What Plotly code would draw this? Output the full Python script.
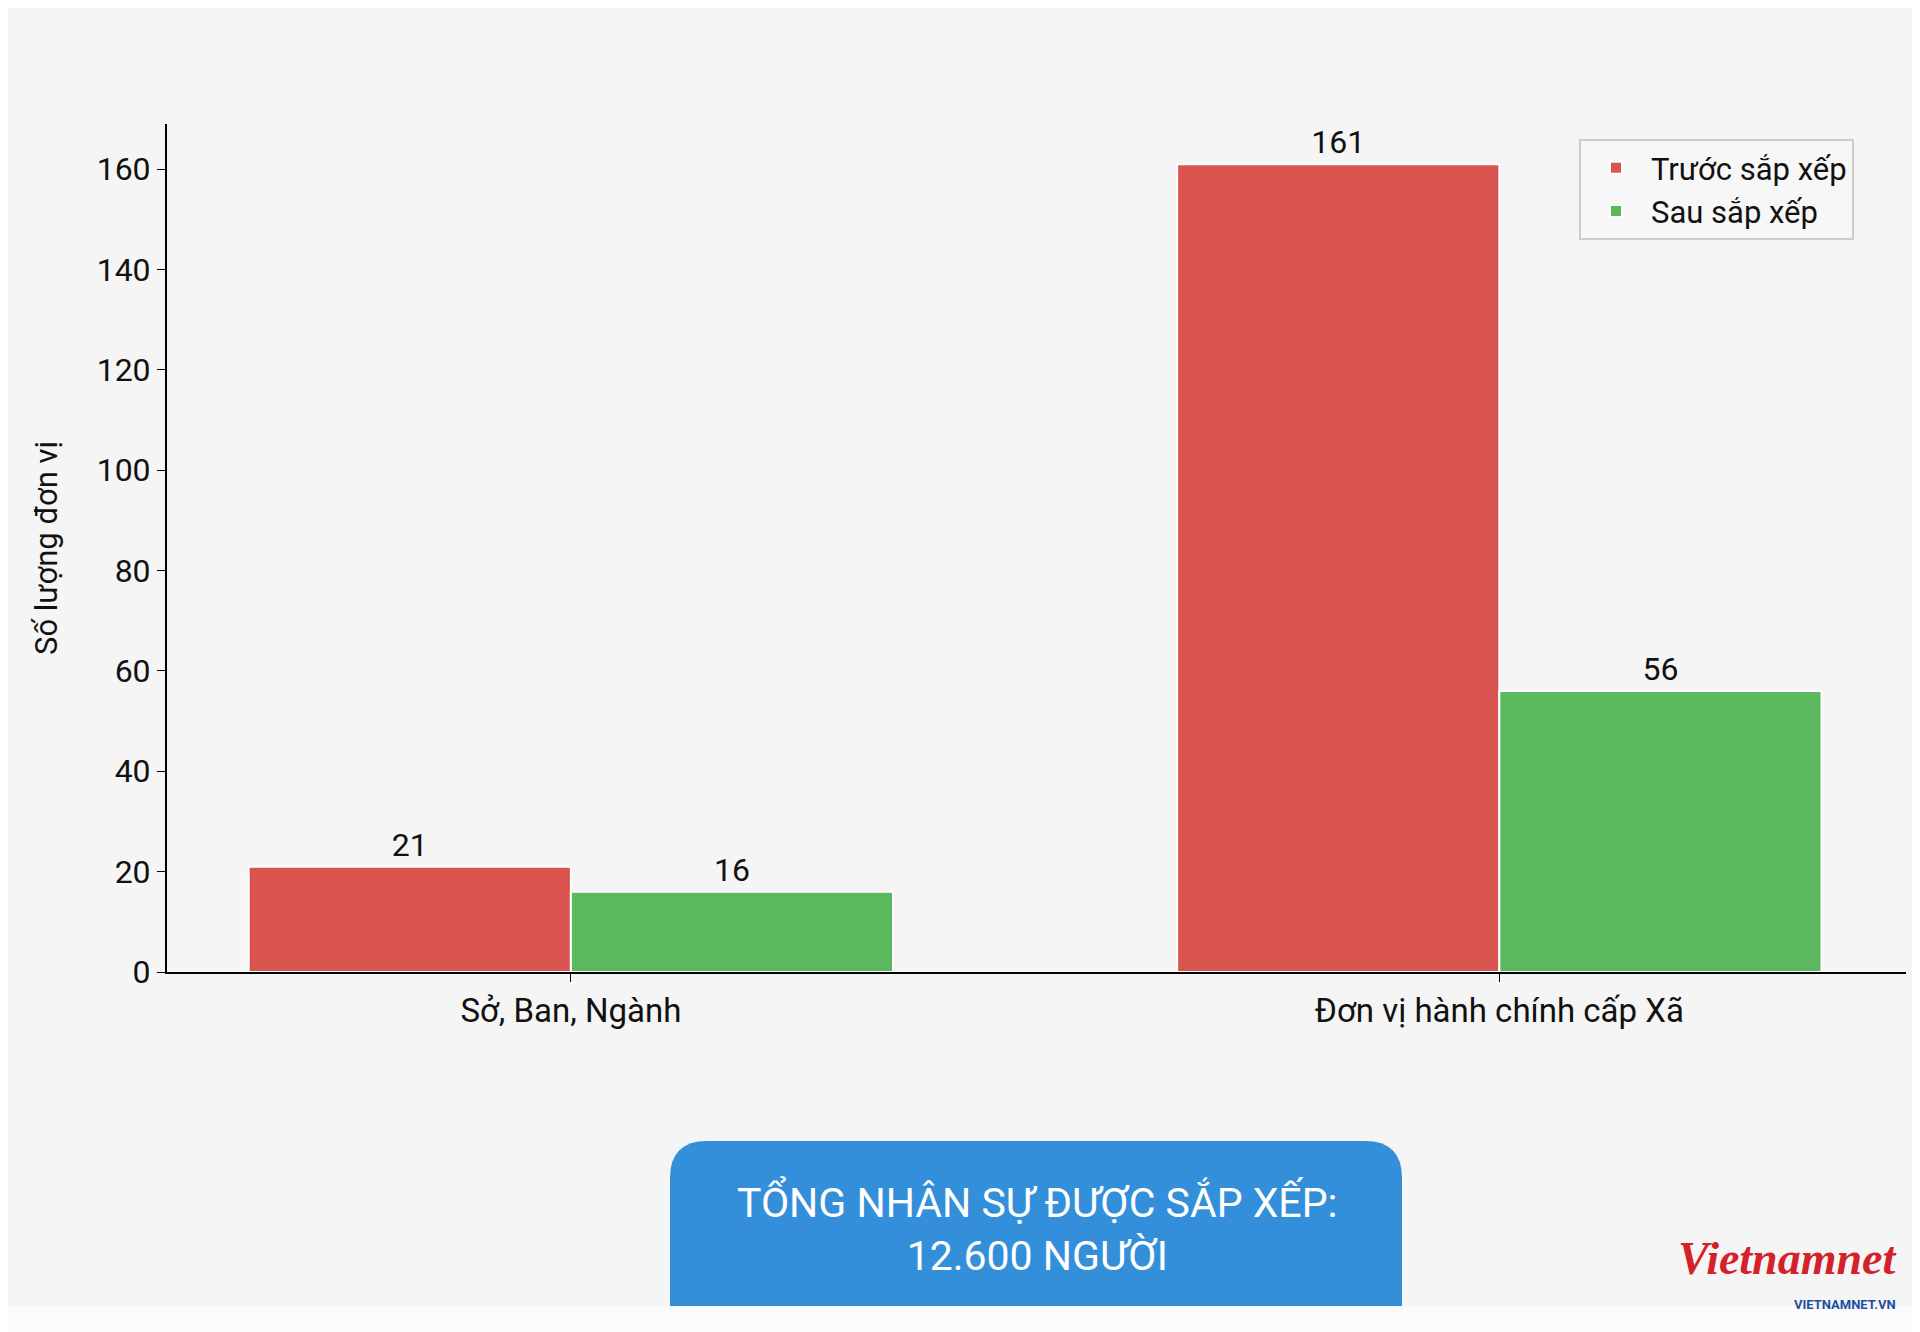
import plotly.graph_objects as go

categories = ["Sở, Ban, Ngành", "Đơn vị hành chính cấp Xã"]
truoc = [21, 161]
sau = [16, 56]

W, H = 1920, 1332
L, R, T, B = 159, 22, 116, 368
PW, PH = W - L - R, H - T - B

def px(x):
    return (x - L) / PW

def py(y):
    return (H - B - y) / PH

fig = go.Figure()
fig.add_bar(x=categories, y=truoc, name="Trước sắp xếp", marker_color="#d9534f",
            marker_line_color="white", marker_line_width=2,
            text=truoc, textposition="outside", textfont=dict(size=32, color="#111"))
fig.add_bar(x=categories, y=sau, name="Sau sắp xếp", marker_color="#5cb85c",
            marker_line_color="white", marker_line_width=2,
            text=sau, textposition="outside", textfont=dict(size=32, color="#111"))

# rounded blue box
x0, x1, y0, y1 = px(662), px(1394), py(1298), py(1133)
rx, ry = 37 / PW, 37 / PH
path = (f"M {x0+rx},{y1} L {x1-rx},{y1} Q {x1},{y1} {x1},{y1-ry} "
        f"L {x1},{y0} L {x0},{y0} L {x0},{y1-ry} Q {x0},{y1} {x0+rx},{y1} Z")

fig.update_layout(
    width=W, height=H,
    paper_bgcolor="#f5f5f5", plot_bgcolor="#f5f5f5",
    margin=dict(l=L, r=R, t=T, b=B),
    font=dict(family="Roboto, Inter, sans-serif", color="#111"),
    barmode="group", bargap=0.306, bargroupgap=0,
    showlegend=True,
    legend=dict(x=px(1571), y=py(131), xanchor="left", yanchor="top",
                bgcolor="#f7f7f7", bordercolor="#cccccc", borderwidth=2,
                font=dict(size=31), itemwidth=60, tracegroupgap=0),
    xaxis=dict(range=[-0.435, 1.438], showline=True, linecolor="black", linewidth=2,
               ticks="outside", ticklen=8, tickcolor="black", tickfont=dict(size=33)),
    yaxis=dict(range=[0, 169], dtick=20, showline=True, linecolor="black", linewidth=2,
               ticks="outside", ticklen=8, tickcolor="black", showgrid=False, zeroline=False,
               tickfont=dict(size=32),
               title=dict(text="Số lượng đơn vị", font=dict(size=31), standoff=30)),
    shapes=[
        dict(type="rect", xref="paper", yref="paper", x0=-1, x1=2, y0=py(1332), y1=py(1298),
             fillcolor="#fbfbfd", line_width=0, layer="below"),
        dict(type="path", xref="paper", yref="paper", path=path,
             fillcolor="#348fdb", line_width=0),
    ],
    annotations=[
        dict(xref="paper", yref="paper", x=px(1029), y=py(1220), yanchor="middle", showarrow=False,
             text="TỔNG NHÂN SỰ ĐƯỢC SẮP XẾP:<br>12.600 NGƯỜI",
             font=dict(size=41, color="white")),
        dict(xref="paper", yref="paper", x=px(1890), y=py(1250), xanchor="right", yanchor="middle",
             showarrow=False,
             text="<b><i>Vietnamnet</i></b>", font=dict(size=46, color="#d3222a", family="Liberation Serif")),
        dict(xref="paper", yref="paper", x=px(1890), y=py(1296), xanchor="right", yanchor="middle",
             showarrow=False,
             text="<b>VIETNAMNET.VN</b>", font=dict(size=13, color="#1b4fa0")),
    ],
)

fig.write_html("out.html")
